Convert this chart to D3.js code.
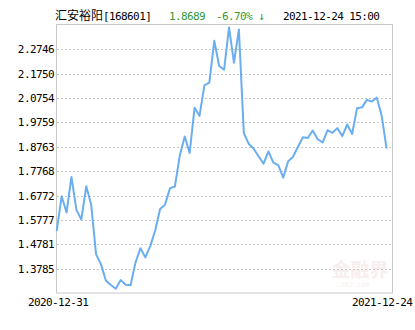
<!DOCTYPE html>
<html>
<head>
<meta charset="utf-8">
<script src="https://cdn.jsdelivr.net/npm/d3@7"></script>
<style>
	body { margin: 0; background: #fff; }
	text { font-family: "DejaVu Sans Mono", monospace; }
</style>
</head>
<body>
<script>
// fund name + latest quote
var fundName = "汇安裕阳";
var fundCode = "[168601]";
var lastValue = "1.8689";
var lastChange = "-6.70% ↓";
var lastTime = "2021-12-24 15:00";

// y axis ticks (shown) and axis bounds
var yTicks = [1.3785, 1.4781, 1.5777, 1.6772, 1.7768, 1.8763, 1.9759, 2.0754, 2.1750, 2.2746];
var yMin = 1.2790;
var yMax = 2.3741;

// x axis only labels first and last day
var xLabels = ["2020-12-31", "2021-12-24"];

// net value
var navValues = [
	1.5317, 1.6742, 1.6079, 1.7533, 1.6188, 1.5793, 1.7150, 1.6404, 1.4368, 1.3961,
	1.3289, 1.3114, 1.2963, 1.3317, 1.3126, 1.3110, 1.4030, 1.4620, 1.4246, 1.4706,
	1.5345, 1.6221, 1.6400, 1.7064, 1.7140, 1.8408, 1.9186, 1.8510, 2.0363, 2.0029,
	2.1272, 2.1386, 2.3096, 2.2066, 2.1915, 2.3642, 2.2200, 2.3561, 1.9325, 1.8889,
	1.8685, 1.8380, 1.8074, 1.8575, 1.8115, 1.8013, 1.7504, 1.8168, 1.8359, 1.8767,
	1.9154, 1.9121, 1.9431, 1.9072, 1.8938, 1.9440, 1.9337, 1.9528, 1.9202, 1.9675,
	1.9288, 2.0343, 2.0376, 2.0681, 2.0612, 2.0775, 2.0031, 1.8689
];

var svgWidth = 415;
var svgHeight = 330;
var plotLeft = 56, plotRight = 392, plotTop = 25, plotBottom = 293;

var svg = d3.select('body').append('svg')
	.attr("width", svgWidth)
	.attr("height", svgHeight);

var x = d3.scaleLinear()
	.domain([0, navValues.length - 1])
	.range([plotLeft + 0.7, plotRight - 5.4]);
var y = d3.scaleLinear()
	.domain([yMin, yMax])
	.range([plotBottom, plotTop]);

// title line
var title = svg.append('text')
	.attr("y", 20)
	.style("font-size", "11px")
	.style("letter-spacing", "-0.6px");
title.append('tspan')
	.attr("x", 55)
	.style("font-family", "'Noto Sans CJK SC'")
	.style("font-size", "12px")
	.style("letter-spacing", "0px")
	.text(fundName);
title.append('tspan')
	.attr("x", 103)
	.text(fundCode);
svg.append('text')
	.attr("x", 169).attr("y", 20)
	.style("font-size", "11px")
	.style("letter-spacing", "-0.6px")
	.style("fill", "#339933")
	.text(lastValue);
svg.append('text')
	.attr("x", 216).attr("y", 20)
	.style("font-size", "11px")
	.style("letter-spacing", "-0.6px")
	.style("fill", "#339933")
	.text(lastChange);
svg.append('text')
	.attr("x", 283).attr("y", 20)
	.style("font-size", "11px")
	.style("letter-spacing", "-0.6px")
	.text(lastTime);

// watermark
svg.append('text')
	.attr("x", 360).attr("y", 277)
	.attr("text-anchor", "middle")
	.style("font-family", "'Noto Sans CJK SC'")
	.style("font-size", "19px")
	.style("font-weight", "bold")
	.style("fill", "#f9eeee")
	.text("金融界");
svg.append('text')
	.attr("x", 355).attr("y", 287)
	.attr("text-anchor", "middle")
	.style("font-size", "7px")
	.style("font-style", "italic")
	.style("fill", "#f9eeee")
	.text("JRJ.com");

// dashed grid
svg.selectAll('line.grid')
	.data(yTicks)
	.enter()
	.append('line')
	.attr("class", "grid")
	.attr("x1", plotLeft + 1)
	.attr("x2", plotRight)
	.attr("y1", d => Math.round(y(d)) + 0.5)
	.attr("y2", d => Math.round(y(d)) + 0.5)
	.style("stroke", "#c8c8c8")
	.style("stroke-dasharray", "2,2");

// frame
svg.append('rect')
	.attr("x", plotLeft + 0.5)
	.attr("y", plotTop - 0.5)
	.attr("width", plotRight - plotLeft)
	.attr("height", plotBottom - plotTop + 0.5)
	.style("fill", "none")
	.style("stroke", "#c8c8c8");

// tick labels
svg.selectAll('text.ylab')
	.data(yTicks)
	.enter()
	.append('text')
	.attr("class", "ylab")
	.attr("x", 54)
	.attr("y", d => y(d) + 4)
	.attr("text-anchor", "end")
	.style("font-size", "11px")
	.style("letter-spacing", "-0.6px")
	.text(d => d.toFixed(4));

svg.append('text')
	.attr("x", 28).attr("y", 306)
	.style("font-size", "11px")
	.style("letter-spacing", "-0.6px")
	.text(xLabels[0]);
svg.append('text')
	.attr("x", 352).attr("y", 306)
	.style("font-size", "11px")
	.style("letter-spacing", "-0.6px")
	.text(xLabels[1]);

// nav line
var line = d3.line()
	.x((d, i) => x(i))
	.y(d => y(d));
svg.append('path')
	.datum(navValues)
	.attr("d", line)
	.style("fill", "none")
	.style("stroke", "#6aaef0")
	.style("stroke-width", 2)
	.style("stroke-linejoin", "round");
</script>
</body>
</html>
